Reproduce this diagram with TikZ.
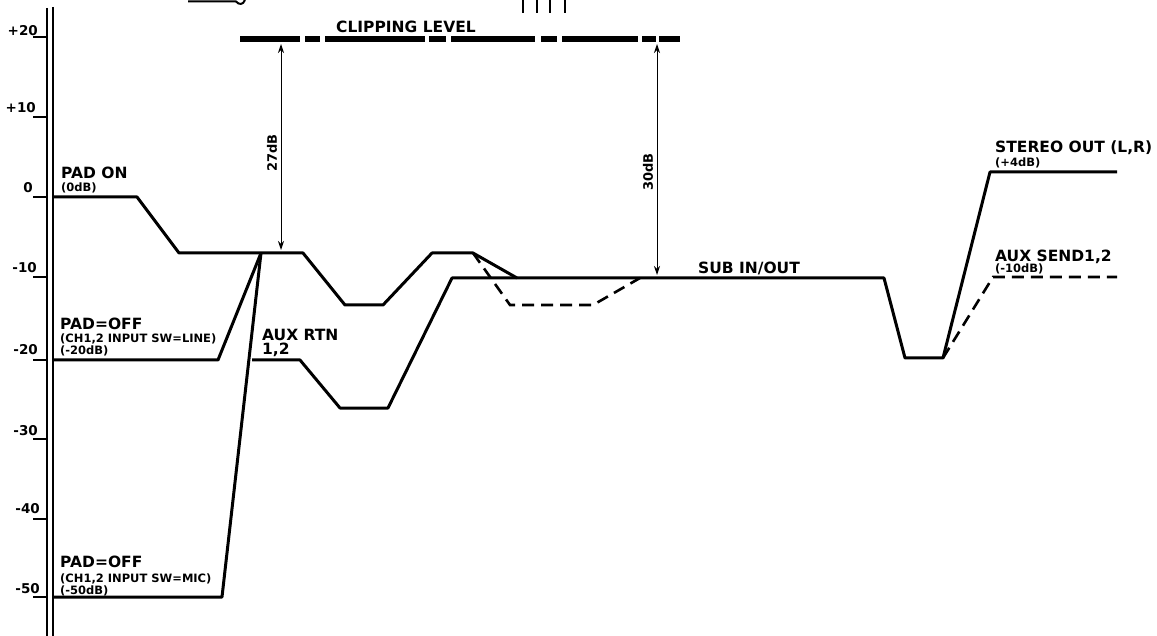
\documentclass[tikz,border=0pt]{standalone}
\usepackage{fontspec}
\setmainfont{DejaVu Sans}
\usetikzlibrary{arrows.meta}
\begin{document}
\begin{tikzpicture}[x=1pt,y=-1pt,
  lvl/.style={line width=3pt, line join=round},
  dlvl/.style={line width=2.6pt, dash pattern=on 12pt off 7pt},
  axisline/.style={line width=2pt},
  tickline/.style={line width=2pt},
  clipbar/.style={line width=5.5pt},
  big/.style={font=\bfseries\fontsize{15.5}{16}\selectfont, inner sep=0pt, anchor=base west},
  small/.style={font=\bfseries\fontsize{11.5}{12}\selectfont, inner sep=0pt, anchor=base west},
  ticklab/.style={font=\bfseries\fontsize{13.5}{14}\selectfont, inner sep=0pt, anchor=base east},
  dimlab/.style={font=\bfseries\fontsize{13}{14}\selectfont, inner sep=0pt, rotate=90},
  dimline/.style={line width=1pt, {Stealth[length=9pt,width=6pt]}-{Stealth[length=9pt,width=6pt]}}
]
\useasboundingbox (0,0) rectangle (1157,636);

% top fragments
\draw[line width=2pt] (188,1.5) -- (236,1.5) .. controls (239,5) and (243,5) .. (245,0);
\foreach \xx in {523,537,550,565} \draw[line width=2.5pt] (\xx,0) -- (\xx,13);

% axis
\draw[axisline] (47,8) -- (47,636);
\draw[axisline] (53,7) -- (53,636);
\foreach \yy in {37,117,197,277,360,439,519,597} \draw[tickline] (33,\yy) -- (47,\yy);
\node[ticklab] (l20) at (38,36) {+20};
\node[ticklab] (l10) at (36,113) {+10};
\node[ticklab] (l0) at (33,193) {0};
\node[ticklab] (lm10) at (37,273) {-10};
\node[ticklab] (lm20) at (38,355) {-20};
\node[ticklab] (lm30) at (38,435) {-30};
\node[ticklab] (lm40) at (40,513) {-40};
\node[ticklab] (lm50) at (40,593) {-50};

% clipping level
\foreach \a/\b in {240/300,305/320,325/425,429/446,451/535,541/557,562/638,642/656,659/680}
  \draw[clipbar] (\a,39) -- (\b,39);
\node[big] (clip) at (336,33) {CLIPPING LEVEL};

% key points
\coordinate (C) at (261,253);
\coordinate (J1) at (473,253);
\coordinate (J2) at (517,278);
\coordinate (J3) at (640,278);
\coordinate (D) at (943,358);

% level paths
\draw[lvl] (53,197) -- (137,197) -- (179,253) -- (C) -- (303,253) -- (345,305) -- (383,305) -- (432,253) -- (J1) -- (J2);
\draw[lvl] (53,360) -- (218,360) -- (C);
\draw[lvl] (53,597) -- (222,597) -- (C);
\draw[lvl] (252,360) -- (300,360) -- (340,408) -- (388,408) -- (452,278) -- (J2) -- (J3) -- (884,278) -- (905,358) -- (D) -- (990,172) -- (1117,172);
\draw[dlvl] (J1) -- (510,305) -- (593,305) -- (J3);
\draw[dlvl] (D) -- (993,277) -- (1117,277);

% dimension arrows
\coordinate (a1t) at (281,44);
\coordinate (a1b) at (281,250);
\coordinate (a2t) at (657,44);
\coordinate (a2b) at (657,275);
\draw[dimline] (a1t) -- (a1b);
\draw[dimline] (a2t) -- (a2b);
\node[dimlab] (d27) at (272,153) {27dB};
\node[dimlab] (d30) at (648,172) {30dB};

% labels
\node[big] (padon) at (61,179) {PAD ON};
\node[small] (padon2) at (61,192) {(0dB)};
\node[big] (padoff) at (60,330) {PAD=OFF};
\node[small] (padoff2) at (60,343) {(CH1,2 INPUT SW=LINE)};
\node[small] (padoff3) at (60,355) {(-20dB)};
\node[big] (mic) at (60,567) {PAD=OFF};
\node[small] (mic2) at (60,582) {(CH1,2 INPUT SW=MIC)};
\node[small] (mic3) at (60,594) {(-50dB)};
\node[big] (auxrtn) at (262,341) {AUX RTN};
\node[big] (auxrtn2) at (262,355) {1,2};
\node[big] (sub) at (698,274) {SUB IN/OUT};
\node[big] (st) at (995,153) {STEREO OUT (L,R)};
\node[small] (st2) at (995,167) {(+4dB)};
\node[big] (as) at (995,262) {AUX SEND1,2};
\node[small] (as2) at (995,273) {(-10dB)};
\end{tikzpicture}
\end{document}
